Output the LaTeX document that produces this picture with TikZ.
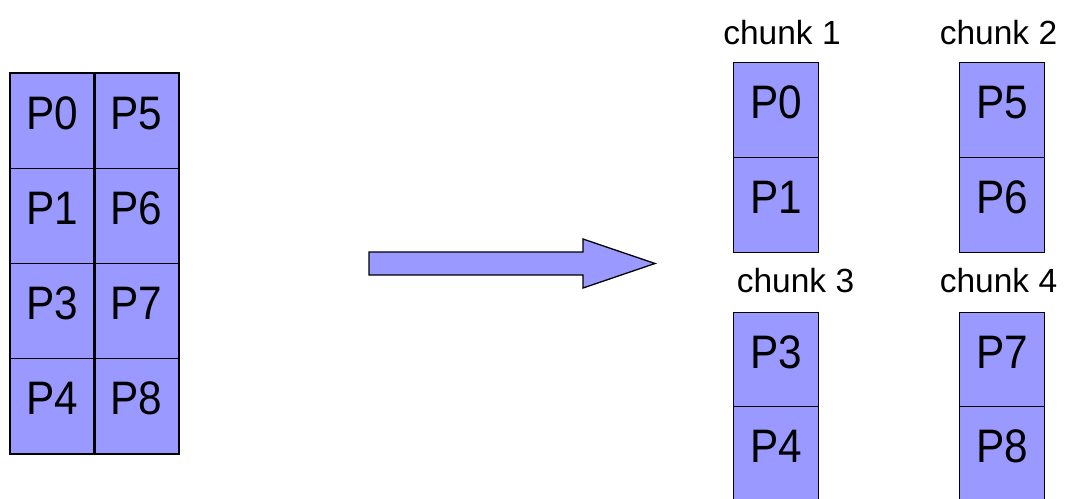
\documentclass[tikz,border=0pt]{standalone}
\usepackage{fontspec}
\setmainfont{Liberation Sans}
\newfontfamily\cellfont[FakeStretch=0.9]{Liberation Sans}
\definecolor{cellblue}{HTML}{9999FF}
\tikzset{
  cell/.style={draw=black, line width=1pt, fill=cellblue, inner sep=0pt,
    minimum width=85pt, text height=56pt, text depth=39pt,
    anchor=north west, font=\cellfont\fontsize{47}{50}\selectfont},
  gridcell/.style={cell, minimum width=84.25pt},
  chunklabel/.style={anchor=base, inner sep=0pt, font=\fontsize{33.5}{36}\selectfont},
  bigarrow/.style={draw=black, line width=1.3pt, fill=cellblue, line join=miter}
}
\begin{document}
\begin{tikzpicture}[x=1pt, y=-1pt]
\useasboundingbox (0,0) rectangle (1065,498);
\begin{scope}
\clip (0,0) rectangle (1065,498);

% source layout: two columns of four blocks
\node[gridcell] (p0) at (9.5,73)  {P0};
\node[gridcell] (p1) at (9.5,168) {P1};
\node[gridcell] (p3) at (9.5,263) {P3};
\node[gridcell] (p4) at (9.5,358) {P4};
\node[gridcell] (p5) at (93.75,73)  {P5};
\node[gridcell] (p6) at (93.75,168) {P6};
\node[gridcell] (p7) at (93.75,263) {P7};
\node[gridcell] (p8) at (93.75,358) {P8};
\draw[line width=1.6pt] (p0.north west) rectangle (p8.south east);
\draw[line width=2.6pt] (p0.north east) -- (p4.south east);

% transformation arrow
\draw[bigarrow] (369,252) -- (583,252) -- (583,239) -- (655,263.5)
  -- (583,288) -- (583,275) -- (369,275) -- cycle;

% chunk 1
\node[cell] (c1a) at (733,62)  {P0};
\node[cell] (c1b) at (733,157) {P1};
\node[chunklabel] (l1) at (782,44) {chunk 1};
% chunk 2
\node[cell] (c2a) at (959,62)  {P5};
\node[cell] (c2b) at (959,157) {P6};
\node[chunklabel] (l2) at (998.5,44) {chunk 2};
% chunk 3
\node[cell] (c3a) at (733,312) {P3};
\node[cell] (c3b) at (733,406) {P4};
\node[chunklabel] (l3) at (795.5,292) {chunk 3};
% chunk 4
\node[cell] (c4a) at (959,312) {P7};
\node[cell] (c4b) at (959,406) {P8};
\node[chunklabel] (l4) at (998.5,292) {chunk 4};
\end{scope}
\end{tikzpicture}
\end{document}
